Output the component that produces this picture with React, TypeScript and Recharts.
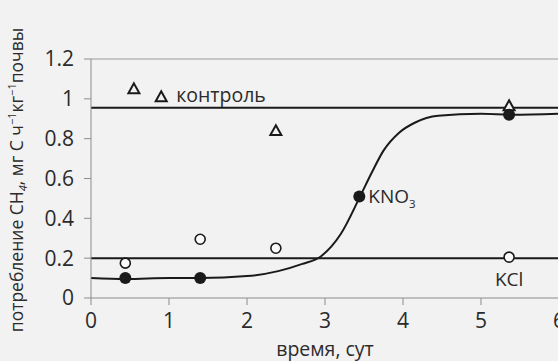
import React from "react";
import {
  ComposedChart,
  XAxis,
  YAxis,
  Line,
  Scatter,
  ReferenceLine,
  ReferenceDot,
} from "recharts";

// Measured methane uptake, days vs mg C h^-1 kg^-1 soil
const controlPoints = [
  { x: 0.55, y: 1.05 },
  { x: 2.37, y: 0.84 },
  { x: 5.36, y: 0.965 },
];
const kclPoints = [
  { x: 0.44, y: 0.175 },
  { x: 1.4, y: 0.295 },
  { x: 2.37, y: 0.25 },
  { x: 5.36, y: 0.205 },
];
const kno3Points = [
  { x: 0.44, y: 0.1 },
  { x: 1.4, y: 0.1 },
  { x: 3.44, y: 0.51 },
  { x: 5.36, y: 0.92 },
];
// Fitted response curve for the KNO3 treatment
const kno3Curve = [
  { x: 0, y: 0.1 },
  { x: 0.45, y: 0.095 },
  { x: 1.0, y: 0.1 },
  { x: 1.4, y: 0.1 },
  { x: 2.0, y: 0.11 },
  { x: 2.4, y: 0.135 },
  { x: 2.7, y: 0.17 },
  { x: 2.95, y: 0.21 },
  { x: 3.2, y: 0.32 },
  { x: 3.45, y: 0.51 },
  { x: 3.6, y: 0.63 },
  { x: 3.75, y: 0.74 },
  { x: 3.95, y: 0.83 },
  { x: 4.15, y: 0.88 },
  { x: 4.45, y: 0.915 },
  { x: 5.0, y: 0.925 },
  { x: 5.4, y: 0.92 },
  { x: 6.0, y: 0.925 },
];
// Mean levels for the control and KCl treatments
const controlLevel = 0.955;
const kclLevel = 0.2;

const xTicks = [0, 1, 2, 3, 4, 5, 6];
const yTicks = [0, 0.2, 0.4, 0.6, 0.8, 1, 1.2];

const FONT = "'Open Sans', 'Noto Sans', sans-serif";
const INK = "#1a1a1a";
const TEXT = "#2b2b2b";
const AXIS = "#8c8c8c";
const BG = "#f2f2f2";

const Triangle = (props: any) => {
  const { cx, cy } = props;
  const s = 5.5;
  return (
    <polygon
      points={`${cx},${cy - s} ${cx + s},${cy + s * 0.8} ${cx - s},${cy + s * 0.8}`}
      fill={BG}
      stroke={INK}
      strokeWidth={2}
      strokeLinejoin="miter"
    />
  );
};

const OpenCircle = (props: any) => (
  <circle cx={props.cx} cy={props.cy} r={5} fill="#fafafa" stroke={INK} strokeWidth={1.6} />
);

const FilledCircle = (props: any) => (
  <circle cx={props.cx} cy={props.cy} r={6} fill={INK} />
);

const fmtY = (v: number) => (v === 0 || v === 1 ? String(v) : v.toFixed(1));

const YLabel = () => (
  <text
    transform="translate(23,180) rotate(-90)"
    textAnchor="middle"
    fontFamily={FONT}
    fontSize={17.5}
    fill={TEXT}
  >
    <tspan>потребление CH</tspan>
    <tspan fontSize={11} dy={4} fontStyle="italic">4</tspan>
    <tspan dy={-4}>, мг С ч</tspan>
    <tspan fontSize={11} dy={-7}>−1</tspan>
    <tspan dy={7}>кг</tspan>
    <tspan fontSize={11} dy={-7}>−1</tspan>
    <tspan dy={7}>почвы</tspan>
  </text>
);

export default function App() {
  return (
    <div
      style={{
        position: "absolute",
        left: 0,
        top: 0,
        width: 558,
        height: 361,
        overflow: "hidden",
        background: BG,
      }}
    >
      <ComposedChart
        width={600}
        height={361}
        margin={{ top: 59, right: 41, bottom: 0, left: 0 }}
      >
        <XAxis
          type="number"
          dataKey="x"
          domain={[0, 6]}
          ticks={xTicks}
          allowDataOverflow
          stroke={AXIS}
          tickSize={7}
          tickMargin={8}
          height={63}
          tick={{ fill: TEXT, fontSize: 21, fontFamily: FONT }}
          label={{
            value: "время, сут",
            position: "insideBottom",
            offset: 5,
            fill: TEXT,
            fontSize: 19.5,
            fontFamily: FONT,
          }}
        />
        <YAxis
          type="number"
          dataKey="y"
          domain={[0, 1.2]}
          ticks={yTicks}
          allowDataOverflow
          width={91}
          stroke={AXIS}
          tickSize={7}
          tickMargin={10}
          tickFormatter={fmtY}
          tick={{ fill: TEXT, fontSize: 21, fontFamily: FONT }}
          label={{ content: () => <YLabel /> }}
        />
        <ReferenceLine y={1.2} stroke="#9a9a9a" strokeWidth={1} />
        <ReferenceLine y={controlLevel} stroke={INK} strokeWidth={2} />
        <ReferenceLine y={kclLevel} stroke={INK} strokeWidth={2} />
        <Line
          data={kno3Curve}
          dataKey="y"
          type="monotone"
          stroke={INK}
          strokeWidth={2}
          dot={false}
          activeDot={false}
          isAnimationActive={false}
        />
        <Scatter data={controlPoints} dataKey="y" shape={Triangle} isAnimationActive={false} />
        <Scatter data={kclPoints} dataKey="y" shape={OpenCircle} isAnimationActive={false} />
        <Scatter data={kno3Points} dataKey="y" shape={FilledCircle} isAnimationActive={false} />
        <ReferenceDot
          x={0.9}
          y={1.01}
          r={0}
          shape={(p: any) => (
            <g>
              <Triangle cx={p.cx} cy={p.cy} />
              <text x={p.cx + 15} y={p.cy + 5} fontFamily={FONT} fontSize={19.5} fill={TEXT}>
                контроль
              </text>
            </g>
          )}
        />
        <ReferenceDot
          x={3.44}
          y={0.51}
          r={0}
          shape={(p: any) => (
            <text x={p.cx + 9} y={p.cy + 7} fontFamily={FONT} fontSize={19} fill={TEXT}>
              KNO
              <tspan fontSize={11.5} dy={5}>3</tspan>
            </text>
          )}
        />
        <ReferenceDot
          x={5.36}
          y={kclLevel}
          r={0}
          shape={(p: any) => (
            <text x={p.cx} y={p.cy + 28} textAnchor="middle" fontFamily={FONT} fontSize={19} fill={TEXT}>
              KCl
            </text>
          )}
        />
      </ComposedChart>
    </div>
  );
}
